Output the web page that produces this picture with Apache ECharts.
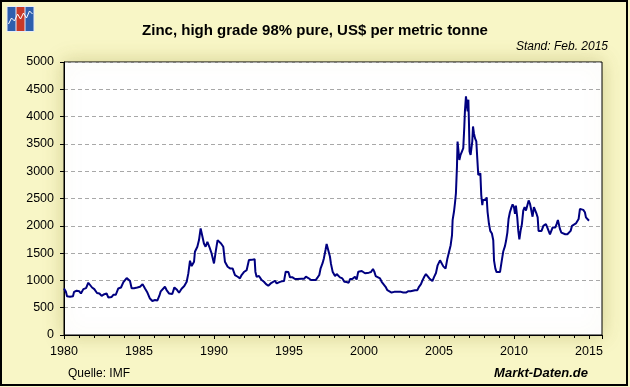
<!DOCTYPE html>
<html>
<head>
<meta charset="utf-8">
<script src="https://cdn.jsdelivr.net/npm/echarts@6/dist/echarts.min.js"></script>
<style>
html,body{margin:0;padding:0;background:#F8F6C6;}
#chart{width:630px;height:387px;}
</style>
</head>
<body>
<div id="chart"></div>
<script>
var title = 'Zinc, high grade 98% pure, US$ per metric tonne';
var standText = 'Stand: Feb. 2015';
var sourceText = 'Quelle: IMF';
var brandText = 'Markt-Daten.de';
var xTicks = [1980, 1985, 1990, 1995, 2000, 2005, 2010, 2015];
var yTicks = [0, 500, 1000, 1500, 2000, 2500, 3000, 3500, 4000, 4500, 5000];

var years = [
1980.0,1980.07,1980.13,1980.2,1980.4,1980.6,1980.67,1980.84,1981.02,1981.13,1981.29,1981.47,1981.62,1981.73,1981.87,
1982.02,1982.2,1982.36,1982.51,1982.69,1982.84,1982.96,1983.18,1983.29,1983.45,1983.62,1983.8,1983.96,
1984.07,1984.18,1984.29,1984.4,1984.51,1984.67,1984.89,1985.07,1985.24,1985.4,1985.56,1985.73,1985.89,
1986.07,1986.22,1986.36,1986.45,1986.55,1986.73,1986.84,1987.0,1987.22,1987.36,1987.51,1987.67,1987.84,
1988.02,1988.18,1988.29,1988.4,1988.51,1988.67,1988.73,1988.89,1989.0,1989.11,1989.24,1989.33,1989.44,1989.56,1989.69,1989.84,
1990.0,1990.13,1990.24,1990.36,1990.47,1990.62,1990.73,1990.91,1991.07,1991.24,1991.4,1991.58,1991.73,1991.84,
1992.02,1992.18,1992.33,1992.51,1992.6,1992.71,1992.76,1992.84,1993.0,1993.18,1993.33,1993.47,1993.62,1993.78,1993.91,
1994.07,1994.18,1994.36,1994.51,1994.67,1994.78,1994.96,1995.07,1995.24,1995.4,1995.56,1995.69,1995.84,
1996.02,1996.13,1996.29,1996.47,1996.62,1996.78,1996.91,1997.02,1997.11,1997.24,1997.33,1997.44,1997.51,1997.64,1997.73,1997.8,1997.91,
1998.07,1998.18,1998.29,1998.4,1998.56,1998.69,1998.84,1998.98,1999.07,1999.22,1999.4,1999.51,1999.62,1999.73,1999.85,1999.96,
2000.07,2000.18,2000.33,2000.47,2000.6,2000.69,2000.78,2000.91,2001.07,2001.18,2001.31,2001.44,2001.56,2001.67,2001.84,
2002.02,2002.13,2002.29,2002.47,2002.62,2002.8,2002.96,2003.11,2003.24,2003.4,2003.56,2003.67,2003.8,2003.91,
2004.02,2004.13,2004.24,2004.36,2004.47,2004.56,2004.67,2004.8,2004.91,2005.07,2005.18,2005.29,2005.44,2005.56,2005.67,2005.78,2005.87,2005.91,
2006.0,2006.07,2006.13,2006.2,2006.24,2006.31,2006.36,2006.44,2006.53,2006.62,2006.69,2006.73,2006.8,2006.87,2006.91,2006.96,
2007.0,2007.04,2007.11,2007.18,2007.22,2007.27,2007.33,2007.4,2007.49,2007.56,2007.62,2007.69,2007.76,2007.82,2007.89,2007.93,
2008.02,2008.11,2008.18,2008.24,2008.33,2008.42,2008.53,2008.62,2008.67,2008.76,2008.84,2008.96,
2009.07,2009.18,2009.29,2009.4,2009.47,2009.56,2009.64,2009.73,2009.84,2009.91,
2010.0,2010.07,2010.13,2010.22,2010.29,2010.36,2010.44,2010.53,2010.62,2010.71,2010.8,2010.89,2010.98,
2011.07,2011.16,2011.24,2011.33,2011.42,2011.51,2011.58,2011.64,2011.73,2011.84,2011.96,
2012.04,2012.13,2012.22,2012.31,2012.4,2012.49,2012.58,2012.67,2012.76,2012.84,2012.93,
2013.0,2013.07,2013.16,2013.29,2013.42,2013.56,2013.67,2013.78,2013.87,
2014.0,2014.13,2014.24,2014.31,2014.4,2014.51,2014.62,2014.73,2014.8,2014.89,2015.0
];

var zinc = [
850,852,790,710,700,710,790,810,800,760,840,858,957,945,870,
840,770,760,716,747,760,685,697,735,735,852,870,969,
1000,1043,1018,988,858,858,870,883,932,852,778,667,624,
640,630,720,800,835,884,823,762,750,872,835,774,847,
896,975,1128,1360,1262,1342,1525,1616,1738,1952,1970,1677,1616,1708,1616,1494,
1311,1555,1738,1769,1677,1616,1342,1250,1220,1220,1098,1067,1037,1098,
1159,1189,1372,1376,1364,1389,1160,1068,1080,1006,975,932,901,944,969,
994,944,969,982,988,1160,1154,1056,1056,1025,1025,994,1031,
1031,1068,1043,1006,1006,1006,1056,1099,1222,1315,1407,1561,1666,1666,1438,1302,1160,
1080,1117,1099,1056,1037,975,970,957,1025,1025,1068,1018,1160,1191,1173,1191,
1130,1160,1142,1154,1210,1160,1080,1056,1037,975,944,883,821,790,778,
790,821,790,790,778,778,803,803,772,821,821,883,932,1006,
1068,1117,1080,1037,1006,988,1061,1135,1276,1368,1337,1257,1215,1398,1521,1644,1828,2103,
2257,2422,2594,3084,3544,3513,3207,3299,3360,3421,3820,4096,4372,4384,4096,4310,
3881,3360,3299,3280,3544,3820,3697,3605,3544,3207,2931,2900,2962,2563,2379,2471,
2502,2471,2520,2257,2042,1907,1858,1736,1368,1215,1153,1172,
1153,1349,1535,1628,1721,1876,2124,2248,2341,2391,
2341,2217,2372,2155,1907,1752,1907,2031,2279,2341,2279,2372,2465,
2403,2372,2167,2341,2372,2217,2155,1907,1876,1907,2000,
2031,2031,1969,1907,1845,1833,1969,1938,1969,2031,2105,
2093,1938,1876,1845,1845,1845,1876,1907,2000,
2031,2043,2062,2124,2310,2329,2291,2248,2155,2124,2093
];

var seriesData = years.map(function (y, i) { return [y, zinc[i]]; });
var FONT = 'Arial, "Liberation Sans", sans-serif';

var chart = echarts.init(document.getElementById('chart'), null, {renderer: 'canvas'});
chart.setOption({
  animation: false,
  backgroundColor: '#F8F6C6',
  grid: {
    left: 64, top: 62, right: 28, bottom: 52,
    show: true,
    backgroundColor: '#FFFFFF',
    borderColor: '#000000',
    borderWidth: 1,
    shadowBlur: 18,
    shadowColor: 'rgba(150,140,60,0.35)'
  },
  xAxis: {
    type: 'value',
    min: 1980,
    max: 2015.87,
    interval: 5,
    axisLine: {show: true, onZero: false, lineStyle: {color: '#000', width: 1}},
    axisTick: {show: true, length: 4, lineStyle: {color: '#000'}},
    minorTick: {show: true, splitNumber: 5, length: 3, lineStyle: {color: '#000'}},
    splitLine: {show: false},
    axisLabel: {
      color: '#000', fontFamily: FONT, fontSize: 12.5, margin: 10,
      showMaxLabel: false,
      formatter: function (v) { return xTicks.indexOf(Math.round(v * 100) / 100) >= 0 ? String(v) : ''; }
    }
  },
  yAxis: {
    type: 'value',
    min: 0, max: 5000, interval: 500,
    axisLine: {show: true, lineStyle: {color: '#000', width: 1}},
    axisTick: {show: true, length: 4, lineStyle: {color: '#000'}},
    splitLine: {show: true, lineStyle: {color: '#A8A8A8', type: [4, 3], width: 1}},
    axisLabel: {
      color: '#000', fontFamily: FONT, fontSize: 12.5, margin: 10,
      formatter: function (v) { return yTicks.indexOf(v) >= 0 ? String(v) : ''; }
    }
  },
  series: [{
    type: 'line',
    data: seriesData,
    showSymbol: false,
    symbol: 'none',
    lineStyle: {color: '#000080', width: 2},
    z: 5
  }],
  graphic: [
    {type: 'rect', z: -10, silent: true, shape: {x: 1, y: 1, width: 626, height: 384}, style: {fill: 'none', stroke: '#000', lineWidth: 2}},
    {type: 'group', left: 6, top: 6, children: [
      {type: 'rect', shape: {x: 0, y: 0, width: 28, height: 26}, style: {fill: '#E8EEF8'}},
      {type: 'rect', shape: {x: 1, y: 1, width: 8, height: 24}, style: {fill: '#2E5FAE'}},
      {type: 'rect', shape: {x: 10, y: 1, width: 8, height: 24}, style: {fill: '#C83A28'}},
      {type: 'rect', shape: {x: 19, y: 1, width: 8, height: 24}, style: {fill: '#2E5FAE'}},
      {type: 'polyline', shape: {points: [[2, 18], [5, 12], [8, 15], [11, 8], [14, 13], [17, 7], [20, 12], [23, 5], [26, 8]]}, style: {stroke: '#FFFFFF', lineWidth: 1, fill: 'none'}}
    ]},
    {type: 'text', left: 'center', top: 23, style: {text: title, font: 'bold 15px ' + FONT, fill: '#000'}},
    {type: 'text', right: 22, top: 41, style: {text: standText, font: 'italic 12px ' + FONT, fill: '#000'}},
    {type: 'text', left: 68, top: 368, style: {text: sourceText, font: '12px ' + FONT, fill: '#000'}},
    {type: 'text', right: 42, top: 367, style: {text: brandText, font: 'italic bold 13px ' + FONT, fill: '#000'}}
  ]
});
</script>
</body>
</html>
